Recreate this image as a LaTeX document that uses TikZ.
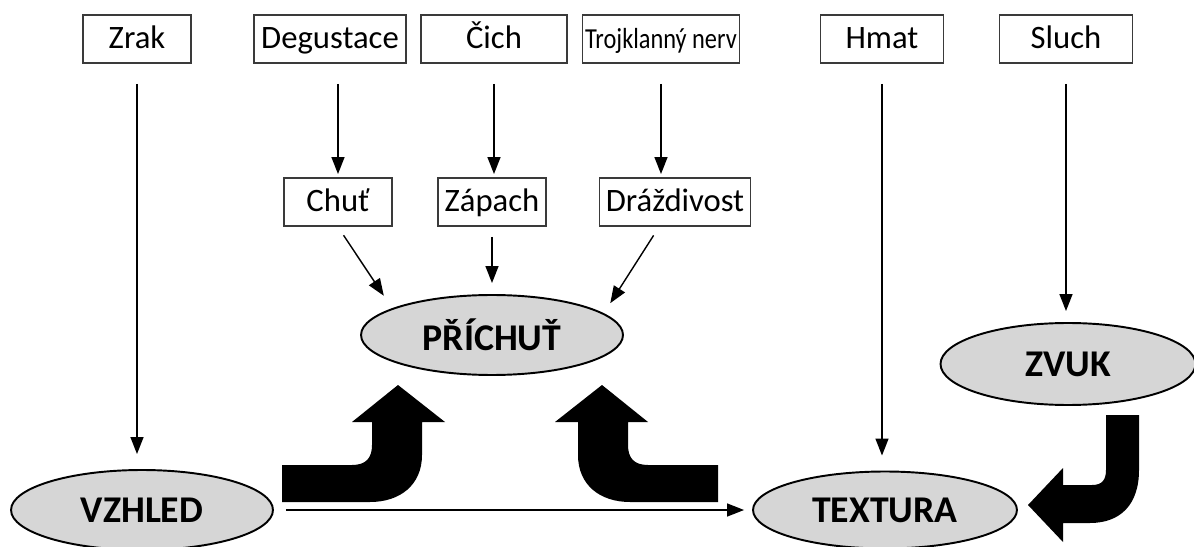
\documentclass[tikz,border=0pt]{standalone}
\usepackage{fontspec}
\setmainfont{Carlito}
\usetikzlibrary{arrows.meta,shapes.geometric}
\definecolor{grey800}{HTML}{3A3A3A}
\definecolor{grey250}{HTML}{D6D6D6}
\tikzset{
  sense/.style  ={draw=grey800, line width=1.1pt, fill=white,
                  minimum height=0.96cm, inner sep=0pt,
                  text height=11.5pt, text depth=0.5pt,
                  font=\fontsize{18.6}{21}\selectfont},
  percept/.style={ellipse, draw=black, line width=1.1pt, fill=grey250,
                  minimum width=5.24cm, minimum height=1.6cm, inner sep=0pt,
                  font=\fontsize{21.5}{25}\selectfont\bfseries},
  ar/.style     ={-{Triangle[length=3.4mm,width=2.6mm]}, line width=0.8pt},
  thickbend/.style={fill=black, draw=none}
}

\begin{document}
\begin{tikzpicture}[x=0.02cm, y=-0.02cm]
\useasboundingbox (0,0) rectangle (1194,547);
% Senses on top, the three chemical ones feed a second row.
\node[sense, minimum width=2.16cm] (zrak)   at (137,39)  {Zrak};
\node[sense, minimum width=3.04cm] (degust) at (330,39)  {Degustace};
\node[sense, minimum width=2.92cm] (cich)   at (494,39)  {Čich};
\node[sense, minimum width=3.14cm,
      font=\fontsize{16.5}{18}\selectfont\addfontfeature{FakeStretch=0.84}]
                                   (trojk)  at (661,39)  {Trojklanný nerv};
\node[sense, minimum width=2.46cm] (hmat)   at (882,39)  {Hmat};
\node[sense, minimum width=2.66cm] (sluch)  at (1066,39) {Sluch};
\node[sense, minimum width=2.16cm] (chut)   at (338,202) {Chuť};
\node[sense, minimum width=2.16cm] (zapach) at (492,202) {Zápach};
\node[sense, minimum width=3.02cm] (drazd)  at (675,202) {Dráždivost};

\node[percept] (prichut) at (492,335) {PŘÍCHUŤ};
\node[percept, minimum width=5.1cm, minimum height=1.64cm]
               (zvuk)    at (1068,364) {ZVUK};
\node[percept] (vzhled)  at (142,510) {VZHLED};
\node[percept, minimum width=5.28cm, minimum height=1.54cm]
               (textura) at (885,510) {TEXTURA};

\draw[ar, shorten <=0.4cm, shorten >=0.3cm]  (zrak.south)  -- (zrak.south |- vzhled.north);
\draw[ar, shorten <=0.4cm, shorten >=0.06cm] (degust.south -| chut.north) -- (chut.north);
\draw[ar, shorten <=0.4cm, shorten >=0.06cm] (cich.south)  -- (cich.south |- zapach.north);
\draw[ar, shorten <=0.4cm, shorten >=0.06cm] (trojk.south) -- (trojk.south |- drazd.north);
\draw[ar, shorten <=0.4cm, shorten >=0.3cm]  (hmat.south)  -- (hmat.south |- textura.north);
\draw[ar, shorten <=0.4cm, shorten >=0.22cm] (sluch.south) -- (sluch.south |- zvuk.north);

\draw[ar, shorten <=0.2cm, shorten >=0.3cm]  (chut.south)   -- (prichut.165);
\draw[ar, shorten <=0.2cm, shorten >=0.22cm] (zapach.south) -- (prichut.north);
\draw[ar, shorten <=0.2cm, shorten >=0.24cm] ([xshift=-0.32cm]drazd.south) -- (prichut.11);
\draw[ar, shorten <=0.24cm, shorten >=0.16cm] (vzhled.east) -- (textura.west);

% Thick bent arrows: vzhled -> prichut, textura -> prichut, zvuk -> textura.
\fill[thickbend] (282,465) -- (352,465) .. controls (366,465) and (372,458) .. (372,445)
  -- (372,422) -- (352,422) -- (398,385) -- (445,422) -- (422,422) -- (422,455)
  .. controls (422,485) and (400,502) .. (370,502) -- (282,502) -- cycle;
\fill[thickbend] (718,465) -- (648,465) .. controls (634,465) and (628,458) .. (628,445)
  -- (628,422) -- (648,422) -- (602,385) -- (555,422) -- (578,422) -- (578,455)
  .. controls (578,485) and (600,502) .. (630,502) -- (718,502) -- cycle;
\fill[thickbend] (1106,415) -- (1139,415) -- (1139,470)
  .. controls (1139,505) and (1120,523) .. (1090,523) -- (1063,523) -- (1063,542)
  -- (1028,505) -- (1063,468) -- (1063,485) -- (1092,485)
  .. controls (1102,485) and (1106,480) .. (1106,470) -- cycle;
\end{tikzpicture}
\end{document}
